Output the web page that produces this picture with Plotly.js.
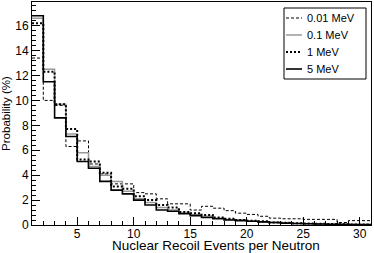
<!DOCTYPE html>
<html><head><meta charset="utf-8">
<script src="https://cdn.plot.ly/plotly-3.0.1.min.js"></script>
<style>html,body{margin:0;padding:0;background:#fff}#c{width:374px;height:253px}</style>
</head><body><div id="c"></div>
<script>
// bin low edges (bin width 1)
const binLow = [1,2,3,4,5,6,7,8,9,10,11,12,13,14,15,16,17,18,19,20,21,22,23,24,25,26,27,28,29,30];
const binHigh = 31;
const seriesNames = ["0.01 MeV","0.1 MeV","1 MeV","5 MeV"];
const p001 = [13.4,10.0,9.6,6.3,6.75,4.9,4.1,3.3,3.3,2.6,2.5,2.1,1.7,1.7,1.2,1.5,1.35,1.15,0.95,0.85,0.7,0.55,0.5,0.5,0.45,0.45,0.45,0.2,0.35,0.35];
const p01  = [16.6,12.5,9.7,7.3,5.8,4.7,4.0,3.5,2.7,2.1,1.8,1.4,1.2,1.0,0.85,0.7,0.55,0.45,0.4,0.3,0.25,0.2,0.15,0.12,0.1,0.08,0.06,0.05,0.04,0.03];
const p1   = [16.2,12.3,9.7,7.7,5.25,5.1,4.2,3.1,2.9,2.3,2.0,1.6,1.4,1.05,0.95,0.8,0.6,0.5,0.4,0.35,0.3,0.2,0.18,0.15,0.12,0.1,0.08,0.06,0.05,0.04];
const p5   = [16.8,11.5,8.6,7.1,5.1,4.55,3.5,2.8,2.5,2.0,1.6,1.2,1.1,0.9,0.75,0.6,0.5,0.4,0.35,0.3,0.25,0.2,0.15,0.12,0.1,0.08,0.06,0.05,0.04,0.03];

const edges = binLow.concat([binHigh]);
function stepY(v){ return v.concat([v[v.length-1]]); }
const styles = [
  {color:'#000', width:1, dash:'3px,2px'},
  {color:'#999', width:1.5, dash:'solid'},
  {color:'#000', width:2, dash:'2px,2px'},
  {color:'#000', width:1.6, dash:'solid'}
];
const vals = [p001,p01,p1,p5];
const traces = vals.map((v,i)=>({
  type:'scatter', mode:'lines', name:seriesNames[i], showlegend:false,
  x:edges, y:stepY(v), line:Object.assign({shape:'hv'}, styles[i]),
  hoverinfo:'skip'
}));
const fam = '"Liberation Sans", Arial, Helvetica, sans-serif';
const font = {family:fam, size:12, color:'#000'};

// hand-built ROOT-style legend (paper coordinates)
const M = {l:32, r:3, t:2, b:28}, W = 374, H = 253;
const pw = W - M.l - M.r, ph = H - M.t - M.b;
const px = x => (x - M.l)/pw, py = y => (H - M.b - y)/ph;
const leg = {x0:284, x1:366, y0:8, y1:79, firstRow:18, rowStep:17, sx0:286, sx1:302, tx:305};
const shapes = [{type:'rect', xref:'paper', yref:'paper', x0:px(leg.x0), x1:px(leg.x1), y0:py(leg.y1), y1:py(leg.y0),
                 line:{color:'#000', width:1}, fillcolor:'#fff', layer:'above'}];
const annotations = [];
seriesNames.forEach((n,i)=>{
  const yy = leg.firstRow + i*leg.rowStep;
  shapes.push({type:'line', xref:'paper', yref:'paper', x0:px(leg.sx0), x1:px(leg.sx1), y0:py(yy), y1:py(yy),
               line:{color:styles[i].color, width:styles[i].width, dash:styles[i].dash}, layer:'above'});
  annotations.push({text:n, xref:'paper', yref:'paper', x:px(leg.tx), y:py(yy), xanchor:'left', yanchor:'middle',
                    showarrow:false, font:{family:fam, size:11, color:'#000'}});
});
annotations.push({text:'Nuclear Recoil Events per Neutron', xref:'paper', yref:'paper', x:px(216.5), y:py(245.5),
                  xanchor:'center', yanchor:'middle', showarrow:false, borderpad:0, font:{family:fam, size:13.5, color:'#000'}});

const layout = {
  width:W, height:H, margin:M,
  paper_bgcolor:'#fff', plot_bgcolor:'#fff',
  font:font, showlegend:false,
  xaxis:{range:[1,31], showgrid:false, zeroline:false, showline:true, linecolor:'#000', linewidth:1, mirror:true,
         ticks:'inside', ticklen:8, tickcolor:'#000', dtick:5, tick0:0, ticklabelstandoff:-2,
         minor:{ticks:'inside', ticklen:4, dtick:1, tickcolor:'#000', showgrid:false},
         tickfont:{size:12}},
  yaxis:{range:[0,17.9], showgrid:false, zeroline:false, showline:true, linecolor:'#000', linewidth:1, mirror:true,
         ticks:'inside', ticklen:8, tickcolor:'#000', dtick:2, tick0:0,
         minor:{ticks:'inside', ticklen:4, dtick:0.4, tickcolor:'#000', showgrid:false},
         tickfont:{size:12},
         title:{text:'Probability (%)', font:{size:11.5}, standoff:5}},
  shapes:shapes, annotations:annotations
};
Plotly.newPlot('c', traces, layout, {staticPlot:true, displayModeBar:false});
</script></body></html>
